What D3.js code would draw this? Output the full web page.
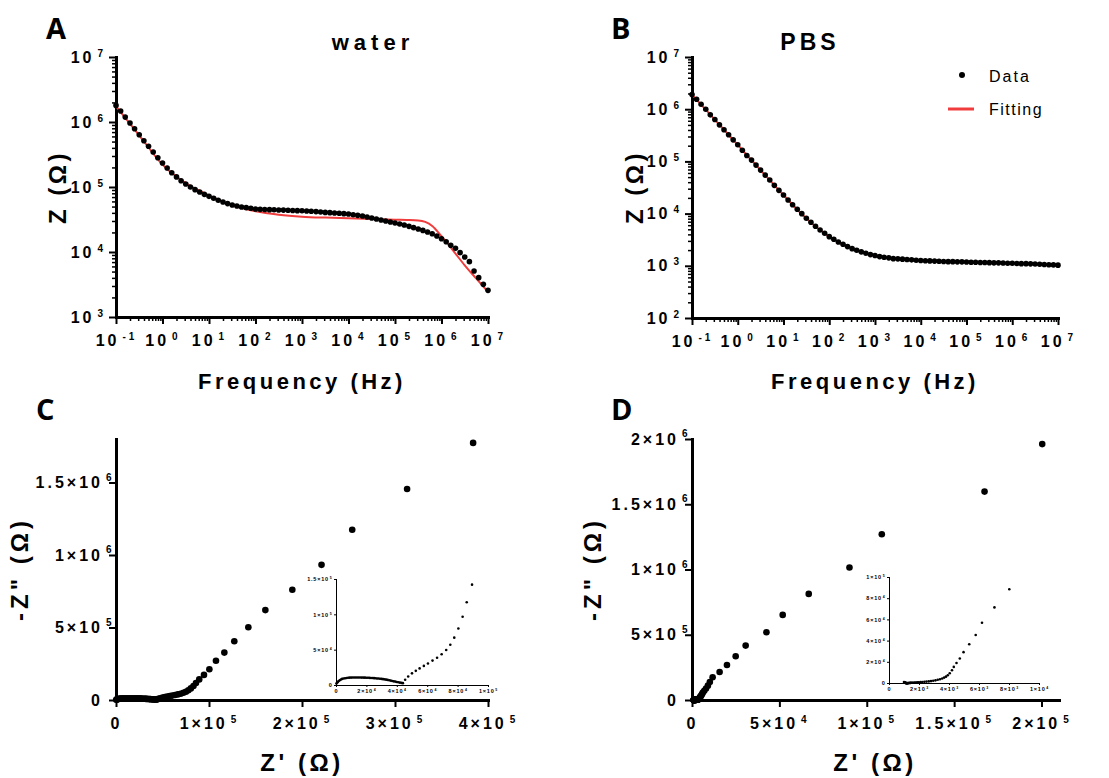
<!DOCTYPE html>
<html>
<head>
<meta charset="utf-8">
<script src="https://cdn.jsdelivr.net/npm/d3@7"></script>
<style>
  body { margin: 0; background: #fff; }
</style>
</head>
<body>
<svg id="chart" width="1109" height="778"></svg>
<script>
const FONT = '"Liberation Sans", Arial, sans-serif';
const RED = "#f03c3c";

// measurement frequencies (Hz), 10 points per decade
const freqs = [
  0.1, 0.126, 0.158, 0.2, 0.251, 0.316, 0.398, 0.501, 0.631, 0.794,
  1, 1.26, 1.58, 2, 2.51, 3.16, 3.98, 5.01, 6.31, 7.94,
  10, 12.6, 15.8, 20, 25.1, 31.6, 39.8, 50.1, 63.1, 79.4,
  100, 126, 158, 200, 251, 316, 398, 501, 631, 794,
  1e3, 1.26e3, 1.58e3, 2e3, 2.51e3, 3.16e3, 3.98e3, 5.01e3, 6.31e3, 7.94e3,
  1e4, 1.26e4, 1.58e4, 2e4, 2.51e4, 3.16e4, 3.98e4, 5.01e4, 6.31e4, 7.94e4,
  1e5, 1.26e5, 1.58e5, 2e5, 2.51e5, 3.16e5, 3.98e5, 5.01e5, 6.31e5, 7.94e5,
  1e6, 1.26e6, 1.58e6, 2e6, 2.51e6, 3.16e6, 3.98e6, 5.01e6, 6.31e6, 7.94e6,
  1e7,
];

// |Z| in water
const waterZ = [
  1.8e6, 1.48e6, 1.19e6, 9.66e5, 7.89e5, 6.38e5, 5.16e5, 4.23e5, 3.45e5, 2.82e5,
  2.34e5, 1.96e5, 1.66e5, 1.43e5, 1.25e5, 1.11e5, 1.0e5, 9.1e4, 8.38e4, 7.71e4,
  7.18e4, 6.7e4, 6.24e4, 5.87e4, 5.55e4, 5.28e4, 5.11e4, 4.92e4, 4.81e4, 4.7e4,
  4.59e4, 4.53e4, 4.51e4, 4.48e4, 4.46e4, 4.43e4, 4.41e4, 4.38e4, 4.35e4, 4.33e4,
  4.3e4, 4.28e4, 4.23e4, 4.18e4, 4.12e4, 4.07e4, 4.03e4, 3.98e4, 3.94e4, 3.89e4,
  3.85e4, 3.75e4, 3.66e4, 3.58e4, 3.45e4, 3.33e4, 3.22e4, 3.1e4, 3.0e4, 2.9e4,
  2.79e4, 2.7e4, 2.6e4, 2.48e4, 2.37e4, 2.26e4, 2.15e4, 2.03e4, 1.91e4, 1.76e4,
  1.6e4, 1.44e4, 1.27e4, 1.14e4, 9.77e3, 8.38e3, 7.1e3, 5.11e3, 4.03e3, 3.18e3,
  2.57e3,
];

// |Z| in PBS
const pbsZ = [
  1.905e6, 1.552e6, 1.247e6, 1.0e6, 7.8e5, 6.35e5, 5.01e5, 4.03e5, 3.23e5, 2.59e5,
  2.08e5, 1.64e5, 1.3e5, 1.06e5, 8.49e4, 6.82e4, 5.47e4, 4.4e4, 3.48e4, 2.79e4,
  2.27e4, 1.82e4, 1.48e4, 1.21e4, 9.98e3, 8.13e3, 6.81e3, 5.71e3, 4.85e3, 4.2e3,
  3.62e3, 3.22e3, 2.86e3, 2.58e3, 2.33e3, 2.13e3, 1.99e3, 1.85e3, 1.74e3, 1.64e3,
  1.57e3, 1.5e3, 1.46e3, 1.42e3, 1.37e3, 1.36e3, 1.34e3, 1.32e3, 1.3e3, 1.28e3,
  1.26e3, 1.25e3, 1.24e3, 1.23e3, 1.22e3, 1.21e3, 1.2e3, 1.2e3, 1.19e3, 1.19e3,
  1.18e3, 1.17e3, 1.17e3, 1.16e3, 1.16e3, 1.15e3, 1.14e3, 1.14e3, 1.13e3, 1.12e3,
  1.12e3, 1.11e3, 1.1e3, 1.1e3, 1.09e3, 1.08e3, 1.07e3, 1.06e3, 1.05e3, 1.04e3,
  1.03e3,
];

// fitted curves
const waterFitF = [0.1, 0.316, 1, 3.16, 10, 31.6, 100, 316, 1e3, 3.16e3, 1e4, 3.16e4, 1e5, 1.78e5, 3.16e5, 4.47e5, 6.31e5, 1e6, 1.78e6, 3.16e6, 5.62e6, 1e7];
const waterFitZ = [1.74e6, 6.24e5, 2.21e5, 1.15e5, 7.45e4, 5.22e4, 4.23e4, 3.75e4, 3.5e4, 3.38e4, 3.3e4, 3.22e4, 3.14e4, 3.11e4, 3.06e4, 2.9e4, 2.52e4, 1.75e4, 1.05e4, 6.24e3, 3.89e3, 2.43e3];
const pbsFitF = [0.1, 0.316, 1, 3.16, 10, 31.6, 100, 316, 1e3, 3.16e3, 1e4, 3.16e4, 1e5, 3.16e5, 1e6, 3.16e6, 1e7];
const pbsFitZ = [1.9e6, 6.3e5, 2.07e5, 6.8e4, 2.27e4, 8.1e3, 3.6e3, 2.12e3, 1.56e3, 1.34e3, 1.25e3, 1.21e3, 1.18e3, 1.15e3, 1.12e3, 1.08e3, 1.03e3];

// Nyquist points [Z', -Z'']
const waterNyquist = [
  [3.84e5, 1.773e6], [3.13e5, 1.455e6], [2.54e5, 1.174e6], [2.21e5, 9.32e5],
  [1.896e5, 7.6e5], [1.606e5, 6.2e5], [1.423e5, 5.02e5], [1.272e5, 4.05e5],
  [1.165e5, 3.27e5], [1.075e5, 2.71e5], [1.004e5, 2.12e5], [9.46e4, 1.73e5],
  [8.95e4, 1.42e5], [8.6e4, 1.17e5], [8.33e4, 9.65e4], [8.05e4, 8.0e4],
  [7.78e4, 6.7e4], [7.52e4, 5.7e4], [7.25e4, 4.95e4], [6.95e4, 4.35e4],
  [6.65e4, 3.85e4], [6.35e4, 3.45e4], [6.05e4, 3.05e4], [5.78e4, 2.7e4],
  [5.5e4, 2.35e4], [5.25e4, 2.0e4], [5.0e4, 1.65e4], [4.75e4, 1.2e4],
  [4.55e4, 7.5e3], [4.4e4, 2.6e3], [4.3e4, 3.0e3], [4.2e4, 3.4e3],
  [4.1e4, 3.9e3], [4.0e4, 4.3e3], [3.9e4, 4.8e3], [3.8e4, 5.2e3],
  [3.7e4, 5.7e3], [3.6e4, 6.2e3], [3.5e4, 6.7e3], [3.4e4, 7.2e3],
  [3.3e4, 7.6e3], [3.2e4, 8.0e3], [3.1e4, 8.3e3], [3.0e4, 8.6e3],
  [2.9e4, 8.9e3], [2.8e4, 9.1e3], [2.7e4, 9.3e3], [2.6e4, 9.5e3],
  [2.5e4, 9.7e3], [2.4e4, 9.9e3], [2.3e4, 1.0e4], [2.2e4, 1.01e4],
  [2.1e4, 1.02e4], [2.0e4, 1.03e4], [1.9e4, 1.04e4], [1.8e4, 1.05e4],
  [1.7e4, 1.05e4], [1.6e4, 1.06e4], [1.5e4, 1.06e4], [1.4e4, 1.07e4],
  [1.3e4, 1.07e4], [1.2e4, 1.07e4], [1.1e4, 1.06e4], [1.0e4, 1.05e4],
  [9.0e3, 1.04e4], [8.0e3, 1.02e4], [7.0e3, 9.9e3], [6.0e3, 9.6e3],
  [5.0e3, 9.2e3], [4.0e3, 8.6e3], [3.2e3, 7.8e3], [2.5e3, 6.8e3],
  [1.8e3, 5.6e3], [1.2e3, 4.4e3], [7.0e2, 3.2e3], [3.0e2, 2.2e3],
];

const pbsNyquist = [
  [1.0e3, 9.0e2], [1.02e3, 7.0e2], [1.04e3, 5.0e2], [1.06e3, 3.5e2],
  [1.08e3, 2.0e2], [1.1e3, 1.0e2], [1.12e3, 0], [1.14e3, -1.0e2],
  [1.16e3, -1.5e2], [1.18e3, -2.0e2], [1.2e3, -2.0e2], [1.22e3, -2.0e2],
  [1.25e3, -1.5e2], [1.28e3, -1.0e2], [1.32e3, 0], [1.36e3, 5.0e1],
  [1.4e3, 1.0e2], [1.45e3, 1.5e2], [1.5e3, 2.0e2], [1.56e3, 2.5e2],
  [1.62e3, 3.0e2], [1.7e3, 3.5e2], [1.78e3, 4.5e2], [1.88e3, 5.5e2],
  [1.98e3, 6.5e2], [2.1e3, 8.0e2], [2.22e3, 9.5e2], [2.36e3, 1.1e3],
  [2.5e3, 1.3e3], [2.65e3, 1.5e3], [2.8e3, 1.8e3], [2.95e3, 2.1e3],
  [3.1e3, 2.5e3], [3.25e3, 3.0e3], [3.4e3, 3.6e3], [3.55e3, 4.3e3],
  [3.68e3, 5.1e3], [3.8e3, 6.0e3], [3.92e3, 7.3e3], [4.05e3, 9.2e3],
  [4.2e3, 1.2e4], [4.32e3, 1.52e4], [4.5e3, 1.88e4], [4.72e3, 2.31e4],
  [4.97e3, 2.91e4], [5.35e3, 3.66e4], [5.78e3, 4.53e4], [6.2e3, 5.69e4],
  [7.03e3, 7.13e4], [8.02e3, 8.84e4], [9.1e3, 1.1e5], [1.02e4, 1.38e5],
  [1.18e4, 1.74e5], [1.58e4, 2.15e5], [2.0e4, 2.68e5], [2.5e4, 3.35e5],
  [3.07e4, 4.17e5], [4.26e4, 5.19e5], [5.19e4, 6.52e5], [6.68e4, 8.13e5],
  [9.01e4, 1.015e6], [1.086e5, 1.27e6], [1.674e5, 1.597e6], [2.004e5, 1.961e6],
];

// ticks and labels ("^" marks the superscript)
const bodeXTicks = [0.1, 1, 10, 100, 1e3, 1e4, 1e5, 1e6, 1e7];
const bodeXLabels = ["10^-1", "10^0", "10^1", "10^2", "10^3", "10^4", "10^5", "10^6", "10^7"];
const waterYTicks = [1e3, 1e4, 1e5, 1e6, 1e7];
const waterYLabels = ["10^3", "10^4", "10^5", "10^6", "10^7"];
const pbsYTicks = [1e2, 1e3, 1e4, 1e5, 1e6, 1e7];
const pbsYLabels = ["10^2", "10^3", "10^4", "10^5", "10^6", "10^7"];

const cXTicks = [0, 1e5, 2e5, 3e5, 4e5];
const cXLabels = ["0", "1×10^5", "2×10^5", "3×10^5", "4×10^5"];
const cYTicks = [0, 5e5, 1e6, 1.5e6];
const cYLabels = ["0", "5×10^5", "1×10^6", "1.5×10^6"];
const cInXTicks = [0, 2e4, 4e4, 6e4, 8e4, 1e5];
const cInXLabels = ["0", "2×10^4", "4×10^4", "6×10^4", "8×10^4", "1×10^5"];
const cInYTicks = [0, 5e4, 1e5, 1.5e5];
const cInYLabels = ["0", "5×10^4", "1×10^5", "1.5×10^5"];

const dXTicks = [0, 5e4, 1e5, 1.5e5, 2e5];
const dXLabels = ["0", "5×10^4", "1×10^5", "1.5×10^5", "2×10^5"];
const dYTicks = [0, 5e5, 1e6, 1.5e6, 2e6];
const dYLabels = ["0", "5×10^5", "1×10^6", "1.5×10^6", "2×10^6"];
const dInXTicks = [0, 2e3, 4e3, 6e3, 8e3, 1e4];
const dInXLabels = ["0", "2×10^3", "4×10^3", "6×10^3", "8×10^3", "1×10^4"];
const dInYTicks = [0, 2e4, 4e4, 6e4, 8e4, 1e5];
const dInYLabels = ["0", "2×10^4", "4×10^4", "6×10^4", "8×10^4", "1×10^5"];

const svg = d3.select("#chart");

function drawAxis(g, side, scale, ticks, labels, o) {
  const axisFn = side === "bottom" ? d3.axisBottom : d3.axisLeft;
  const axis = axisFn(scale)
    .tickValues(ticks)
    .tickSize(o.tick)
    .tickSizeOuter(0)
    .tickPadding(o.pad)
    .tickFormat(() => "");
  const ag = g
    .append("g")
    .attr("transform", o.transform)
    .call(axis)
    .attr("font-family", FONT)
    .attr("font-size", o.size)
    .attr("font-weight", "bold");
  ag.select(".domain")
    .attr("stroke", "#000")
    .attr("stroke-width", o.line)
    .attr("stroke-linecap", "square");
  ag.selectAll(".tick line").attr("stroke", "#000").attr("stroke-width", o.tickWidth);
  ag.selectAll(".tick text").each(function (d, i) {
    const t = d3.select(this).style("letter-spacing", o.ls + "px");
    const parts = labels[i].split("^");
    t.append("tspan").text(parts[0]);
    if (parts.length > 1) {
      const sup = t
        .append("tspan")
        .attr("dx", o.ls)
        .attr("dy", -o.raise)
        .attr("font-size", o.supSize)
        .text(parts[1]);
      // superscripts of linear y labels hang past the anchor
      if (o.supOut) {
        const w = sup.node().getComputedTextLength();
        t.attr("x", +t.attr("x") + w + o.ls);
      }
    }
  });
  return ag;
}

function minorAxis(g, side, scale, values, size, transform) {
  const axisFn = side === "bottom" ? d3.axisBottom : d3.axisLeft;
  g.append("g")
    .attr("transform", transform)
    .call(axisFn(scale).tickValues(values).tickSize(size).tickFormat(""))
    .call((s) => s.select(".domain").remove())
    .selectAll("line")
    .attr("stroke", "#000")
    .attr("stroke-width", 1.5);
}

function addText(txt, x, y, size, ls, opts = {}) {
  const t = svg
    .append("text")
    .attr("x", x)
    .attr("y", y)
    .attr("font-family", opts.family || FONT)
    .attr("font-size", size)
    .attr("font-weight", opts.weight || "bold")
    .attr("text-anchor", opts.anchor || "middle")
    .style("letter-spacing", ls + "px")
    .text(txt);
  if (opts.rotate) t.attr("transform", `rotate(-90,${x},${y})`);
  return t;
}

function drawBode(p) {
  const x = d3.scaleLog().domain([0.1, 1e7]).range([p.left, p.right]);
  const y = d3.scaleLog().domain(p.yDomain).range([p.bottom, p.top]);
  const g = svg.append("g");

  const xMinor = [];
  d3.range(-1, 7).forEach((e) =>
    d3.range(2, 10).forEach((m) => xMinor.push(m * Math.pow(10, e)))
  );
  const yMinor = [];
  d3.range(Math.log10(p.yDomain[0]), Math.log10(p.yDomain[1])).forEach((e) =>
    d3.range(2, 10).forEach((m) => yMinor.push(m * Math.pow(10, e)))
  );
  minorAxis(g, "bottom", x, xMinor, 4, `translate(0,${p.bottom})`);
  minorAxis(g, "left", y, yMinor, 4, `translate(${p.left},0)`);

  drawAxis(g, "bottom", x, bodeXTicks, bodeXLabels, {
    transform: `translate(0,${p.bottom})`,
    tick: 7, pad: 11, size: 16, supSize: 10, raise: 6, ls: 3,
    line: 3, tickWidth: 2,
  });
  drawAxis(g, "left", y, p.yTicks, p.yLabels, {
    transform: `translate(${p.left},0)`,
    tick: 7, pad: 3, size: 16, supSize: 10, raise: 6, ls: 3,
    line: 3, tickWidth: 2,
  });

  const line = d3
    .line()
    .x((d) => x(d[0]))
    .y((d) => y(d[1]))
    .curve(d3.curveMonotoneX);
  g.append("path")
    .datum(d3.zip(p.fitF, p.fitZ))
    .attr("d", line)
    .attr("fill", "none")
    .attr("stroke", RED)
    .attr("stroke-width", 2);

  g.selectAll(".dot")
    .data(d3.zip(freqs, p.z))
    .join("circle")
    .attr("class", "dot")
    .attr("cx", (d) => x(d[0]))
    .attr("cy", (d) => y(d[1]))
    .attr("r", 2.8)
    .attr("fill", "#000");
}

function drawNyquist(p) {
  const x = d3.scaleLinear().domain(p.xDomain).range([p.left, p.right]);
  const y = d3.scaleLinear().domain(p.yDomain).range([p.bottom, p.top]);
  const g = svg.append("g");

  drawAxis(g, "bottom", x, p.xTicks, p.xLabels, {
    transform: `translate(0,${p.bottom})`,
    tick: 7, pad: 11, size: 16, supSize: 10, raise: 6, ls: 3,
    line: 3, tickWidth: 2,
  });
  drawAxis(g, "left", y, p.yTicks, p.yLabels, {
    transform: `translate(${p.left},0)`,
    tick: 7, pad: 6, size: 16, supSize: 10, raise: 7.5, ls: 3,
    line: 3, tickWidth: 2, supOut: true,
  });

  g.selectAll(".dot")
    .data(p.data)
    .join("circle")
    .attr("class", "dot")
    .attr("cx", (d) => x(d[0]))
    .attr("cy", (d) => y(d[1]))
    .attr("r", 3.3)
    .attr("fill", "#000");

  // inset zoom on the high-frequency part
  const q = p.inset;
  const xi = d3.scaleLinear().domain(q.xDomain).range([q.left, q.right]);
  const yi = d3.scaleLinear().domain(q.yDomain).range([q.bottom, q.top]);
  const gi = svg.append("g");
  drawAxis(gi, "bottom", xi, q.xTicks, q.xLabels, {
    transform: `translate(0,${q.bottom})`,
    tick: 2, pad: 2.5, size: 5.5, supSize: 3.5, raise: 2, ls: 0.8,
    line: 1, tickWidth: 1,
  });
  drawAxis(gi, "left", yi, q.yTicks, q.yLabels, {
    transform: `translate(${q.left},0)`,
    tick: 2, pad: 1.5, size: 5.5, supSize: 3.5, raise: 2, ls: 0.8,
    line: 1, tickWidth: 1,
  });
  gi.selectAll(".idot")
    .data(p.data.filter((d) => d[0] <= q.xDomain[1] && d[1] <= q.yDomain[1]))
    .join("circle")
    .attr("class", "idot")
    .attr("cx", (d) => xi(d[0]))
    .attr("cy", (d) => yi(d[1]))
    .attr("r", 1.3)
    .attr("fill", "#000");
}

drawBode({
  left: 116, right: 488, top: 57, bottom: 317,
  yDomain: [1e3, 1e7], yTicks: waterYTicks, yLabels: waterYLabels,
  z: waterZ, fitF: waterFitF, fitZ: waterFitZ,
});
drawBode({
  left: 692, right: 1058, top: 57, bottom: 318,
  yDomain: [1e2, 1e7], yTicks: pbsYTicks, yLabels: pbsYLabels,
  z: pbsZ, fitF: pbsFitF, fitZ: pbsFitZ,
});

drawNyquist({
  left: 116, right: 488, top: 439, bottom: 700,
  xDomain: [0, 4e5], yDomain: [0, 1.8e6],
  xTicks: cXTicks, xLabels: cXLabels, yTicks: cYTicks, yLabels: cYLabels,
  data: waterNyquist,
  inset: {
    left: 336, right: 488, top: 579, bottom: 685,
    xDomain: [0, 1e5], yDomain: [0, 1.5e5],
    xTicks: cInXTicks, xLabels: cInXLabels, yTicks: cInYTicks, yLabels: cInYLabels,
  },
});
drawNyquist({
  left: 692, right: 1059, top: 439, bottom: 700,
  xDomain: [0, 2.1e5], yDomain: [0, 2e6],
  xTicks: dXTicks, xLabels: dXLabels, yTicks: dYTicks, yLabels: dYLabels,
  data: pbsNyquist,
  inset: {
    left: 889, right: 1039, top: 577, bottom: 683,
    xDomain: [0, 1e4], yDomain: [0, 1e5],
    xTicks: dInXTicks, xLabels: dInXLabels, yTicks: dInYTicks, yLabels: dInYLabels,
  },
});

// panel letters
const letterFont = '"Open Sans", "Liberation Sans", sans-serif';
addText("A", 46, 39, 29, 0, { anchor: "start", family: letterFont });
addText("B", 611, 39, 29, 0, { anchor: "start", family: letterFont });
addText("C", 36, 420, 29, 0, { anchor: "start", family: letterFont });
addText("D", 611, 420, 29, 0, { anchor: "start", family: letterFont });

// titles
addText("water", 373, 50, 22, 5);
addText("PBS", 810, 50, 23, 4);

// axis titles
addText("Frequency (Hz)", 302, 389, 22, 3.5);
addText("Frequency (Hz)", 875, 389, 22, 3.5);
addText("Z (Ω)", 66, 187, 24, 3.5, { rotate: true });
addText("Z (Ω)", 643, 187, 24, 3.5, { rotate: true });
addText("-Z\" (Ω)", 28, 569, 24, 4, { rotate: true });
addText("-Z\" (Ω)", 601, 569, 24, 4, { rotate: true });
addText("Z' (Ω)", 302, 771, 24, 3.5);
addText("Z' (Ω)", 875, 771, 24, 3.5);

// legend in panel B
const legend = svg.append("g");
legend.append("circle").attr("cx", 962).attr("cy", 75).attr("r", 3).attr("fill", "#000");
legend.append("line")
  .attr("x1", 948).attr("x2", 974).attr("y1", 109).attr("y2", 109)
  .attr("stroke", RED).attr("stroke-width", 3);
addText("Data", 989, 82, 16, 2, { anchor: "start", weight: "normal" });
addText("Fitting", 989, 115, 16, 1.5, { anchor: "start", weight: "normal" });
</script>
</body>
</html>
